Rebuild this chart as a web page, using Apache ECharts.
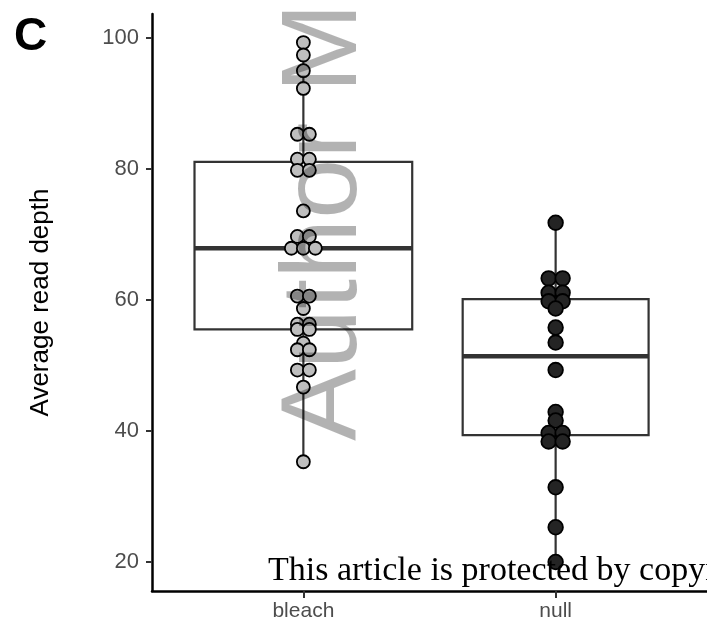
<!DOCTYPE html>
<html>
<head>
<meta charset="utf-8">
<script src="https://cdn.jsdelivr.net/npm/echarts@6/dist/echarts.min.js"></script>
<style>
html,body{margin:0;padding:0;background:#fff;}
#chart{width:707px;height:626px;}
</style>
</head>
<body>
<div id="chart"></div>
<script>
// ---- data ----
const categories = ['bleach', 'null'];
const bleachValues = [99.3, 97.4, 95.0, 92.3, 85.3, 85.3, 81.5, 81.5, 79.8, 79.8, 73.6,
  69.7, 69.7, 67.9, 67.9, 67.9, 60.6, 60.6, 58.7, 56.3, 56.3, 55.5, 55.5, 53.4,
  52.4, 52.4, 49.3, 49.3, 46.7, 35.3];
const nullValues = [71.8, 63.3, 63.3, 61.1, 61.1, 59.8, 59.8, 58.7, 55.8, 53.5, 49.3,
  42.9, 41.6, 39.7, 39.7, 38.4, 38.4, 31.4, 25.3, 20.0];
const yTickValues = [20, 40, 60, 80, 100];
const yLabel = 'Average read depth';

// ---- styling ----
const groupStyle = [
  { fill: '#bebebe', r: 6.5, spacing: 12, boxWidth: 0.863 },
  { fill: '#242424', r: 7.3, spacing: 14, boxWidth: 0.737 }
];

function quantile(sorted, p) {
  const h = (sorted.length - 1) * p;
  const lo = Math.floor(h), hi = Math.ceil(h);
  return sorted[lo] + (h - lo) * (sorted[hi] - sorted[lo]);
}
function boxStats(vals) {
  const s = vals.slice().sort((a, b) => a - b);
  const q1 = quantile(s, 0.25), med = quantile(s, 0.5), q3 = quantile(s, 0.75);
  const iqr = q3 - q1;
  const lowW = Math.min(...s.filter(v => v >= q1 - 1.5 * iqr));
  const highW = Math.max(...s.filter(v => v <= q3 + 1.5 * iqr));
  return [lowW, q1, med, q3, highW];
}
const groups = [bleachValues, nullValues];
const boxData = groups.map((vals, i) => [i + 1].concat(boxStats(vals)));

// dots: stack equal values side by side
const dotData = [];
groups.forEach((vals, gi) => {
  const counts = {};
  vals.forEach(v => { counts[v] = (counts[v] || 0) + 1; });
  const seen = {};
  vals.forEach(v => {
    const k = seen[v] || 0; seen[v] = k + 1;
    dotData.push([gi + 1, v, k, counts[v], gi]);
  });
});

const chart = echarts.init(document.getElementById('chart'), null, { renderer: 'canvas' });
const lineCol = '#333333';
chart.setOption({
  animation: false,
  backgroundColor: '#ffffff',
  grid: { left: 152, top: 14, width: 561, height: 577, containLabel: false },
  xAxis: {
    type: 'value', min: 0.4, max: 2.6,
    splitLine: { show: false },
    axisLine: { show: true, lineStyle: { color: '#000', width: 2.5 } },
    axisTick: { show: true, length: 7, customValues: [1, 2], lineStyle: { color: lineCol, width: 2 } },
    axisLabel: {
      customValues: [1, 2], margin: 10, color: '#4d4d4d',
      fontFamily: 'Liberation Sans', fontSize: 21,
      formatter: v => categories[Math.round(v) - 1]
    }
  },
  yAxis: {
    type: 'value', min: 15.57, max: 103.66,
    name: yLabel, nameLocation: 'middle', nameGap: 98,
    nameTextStyle: { fontFamily: 'Liberation Sans', fontSize: 26, color: '#000' },
    splitLine: { show: false },
    axisLine: { show: true, lineStyle: { color: '#000', width: 2.5 } },
    axisTick: { show: true, length: 6, customValues: yTickValues, lineStyle: { color: lineCol, width: 2 } },
    axisLabel: {
      customValues: yTickValues, margin: 13, color: '#4d4d4d',
      fontFamily: 'Liberation Sans', fontSize: 22
    }
  },
  series: [
    {
      type: 'custom',
      data: boxData,
      z: 2,
      renderItem: function (params, api) {
        const x = api.value(0);
        const w = api.size([groupStyle[params.dataIndex].boxWidth, 0])[0];
        const pLow = api.coord([x, api.value(1)]);
        const pQ1 = api.coord([x, api.value(2)]);
        const pMed = api.coord([x, api.value(3)]);
        const pQ3 = api.coord([x, api.value(4)]);
        const pHigh = api.coord([x, api.value(5)]);
        const cx = pMed[0];
        return {
          type: 'group',
          children: [
            { type: 'line', shape: { x1: cx, y1: pQ3[1], x2: cx, y2: pHigh[1] }, style: { stroke: lineCol, lineWidth: 2.2 } },
            { type: 'line', shape: { x1: cx, y1: pQ1[1], x2: cx, y2: pLow[1] }, style: { stroke: lineCol, lineWidth: 2.2 } },
            { type: 'rect', shape: { x: cx - w / 2, y: pQ3[1], width: w, height: pQ1[1] - pQ3[1] }, style: { fill: 'rgba(255,255,255,0)', stroke: lineCol, lineWidth: 2.2 } },
            { type: 'line', shape: { x1: cx - w / 2, y1: pMed[1], x2: cx + w / 2, y2: pMed[1] }, style: { stroke: lineCol, lineWidth: 4.4 } }
          ]
        };
      }
    },
    {
      type: 'custom',
      data: dotData,
      z: 3,
      renderItem: function (params, api) {
        const gi = api.value(4);
        const st = groupStyle[gi];
        const p = api.coord([api.value(0), api.value(1)]);
        const k = api.value(2), n = api.value(3);
        const off = (k - (n - 1) / 2) * st.spacing;
        return {
          type: 'circle',
          shape: { cx: p[0] + off, cy: p[1], r: st.r },
          style: { fill: st.fill, stroke: '#000', lineWidth: 1.8 }
        };
      }
    }
  ],
  graphic: [
    {
      type: 'text', left: 14, top: 14, z: 10,
      style: { text: 'C', font: 'bold 46px "Liberation Sans"', fill: '#000' }
    },
    {
      type: 'text', x: 380, y: 441, rotation: Math.PI / 2, z: 100,
      style: {
        text: 'Author Manuscript', font: '108px "Liberation Sans"',
        fill: 'rgba(0,0,0,0.3)', textAlign: 'left', textVerticalAlign: 'bottom'
      }
    },
    {
      type: 'text', x: 268, y: 588, z: 100,
      style: {
        text: 'This article is protected by copyright. All rights reserved',
        font: '34px "Liberation Serif"', fill: '#000',
        textAlign: 'left', textVerticalAlign: 'bottom'
      }
    }
  ]
});
</script>
</body>
</html>
